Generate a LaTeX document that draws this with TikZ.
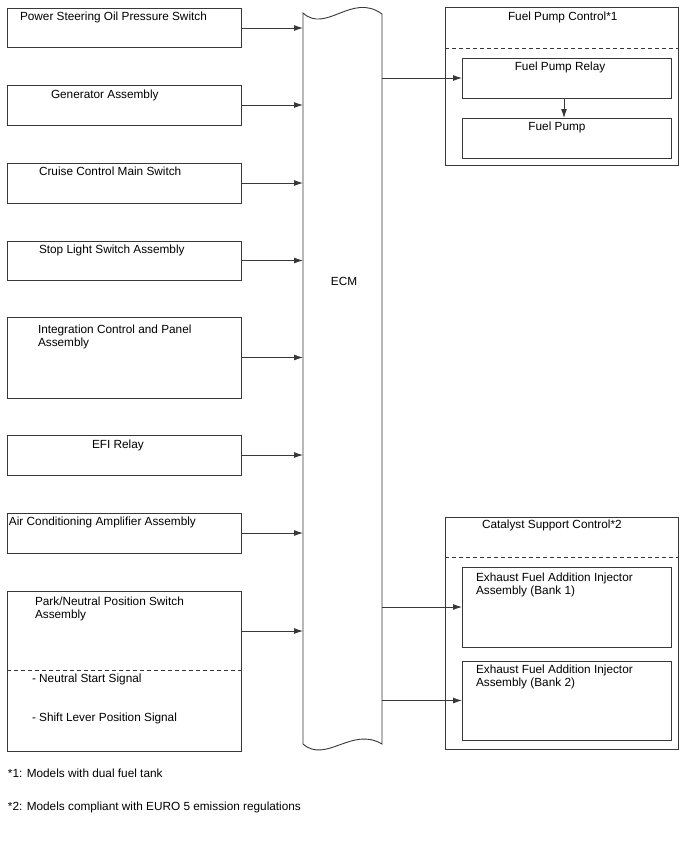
\documentclass[tikz,border=0pt]{standalone}
\usepackage{fontspec}
\setmainfont{Liberation Sans}
\usetikzlibrary{arrows.meta}
\definecolor{ln}{gray}{0.22}
\begin{document}
\begin{tikzpicture}[x=1pt,y=-1pt,
  box/.style={draw=ln,line width=0.9pt,anchor=north west,inner sep=0pt,outer sep=0pt},
  txt/.style={anchor=base west,inner sep=0pt,outer sep=0pt,font=\fontsize{11.8}{13.5}\selectfont,align=left},
  ctxt/.style={anchor=base,inner sep=0pt,outer sep=0pt,font=\fontsize{11.8}{13.5}\selectfont},
  arr/.style={draw=ln,line width=0.9pt,-{Latex[length=9pt,width=6pt]}},
  dsh/.style={draw=ln,line width=0.9pt,dash pattern=on 4pt off 3pt}]
\useasboundingbox (0,0) rectangle (688,852);
\fill[white] (0,0) rectangle (688,852);
% left boxes
\node[box,minimum width=234pt,minimum height=39pt] (b1) at (7,8) {};
\node[box,minimum width=234pt,minimum height=40pt] (b2) at (7,85) {};
\node[box,minimum width=234pt,minimum height=40pt] (b3) at (7,163) {};
\node[box,minimum width=234pt,minimum height=39pt] (b4) at (7,241) {};
\node[box,minimum width=234pt,minimum height=81pt] (b5) at (7,317) {};
\node[box,minimum width=234pt,minimum height=40pt] (b6) at (7,435) {};
\node[box,minimum width=234pt,minimum height=40pt] (b7) at (7,513) {};
\node[box,minimum width=234pt,minimum height=160pt] (b8) at (7,591) {};
\node[txt] (t1) at (20,20) {Power Steering Oil Pressure Switch};
\node[txt] (t2) at (51,98) {Generator Assembly};
\node[txt] (t3) at (39,175) {Cruise Control Main Switch};
\node[txt] (t4) at (39,253) {Stop Light Switch Assembly};
\node[txt] (t5) at (38,346.5) {Integration Control and Panel\\Assembly};
\node[txt] (t6) at (92,448) {EFI Relay};
\node[txt] (t7) at (9,525) {Air Conditioning Amplifier Assembly};
\node[txt] (t8) at (35,618.5) {Park/Neutral Position Switch\\Assembly};
\draw[dsh] (7,670) -- (241,670);
\node[txt] (t8a) at (32,682) {- Neutral Start Signal};
\node[txt] (t8b) at (32,721) {- Shift Lever Position Signal};
% ECM
\node[inner sep=0pt,outer sep=0pt,minimum width=79pt,minimum height=731pt,anchor=north west] (ecm) at (303,13) {};
\draw[ln,line width=0.9pt] (303,13) .. controls (326,34) and (352,-8) .. (382,14)
  -- (382,744) .. controls (352,726) and (326,764) .. (303,744) -- cycle;
\node[ctxt] (ecmlbl) at (344,285) {ECM};
% arrows left -> ECM
\draw[arr] (b1.east |- 0,28) -- (ecm.west |- 0,28);
\draw[arr] (b2.east) -- (ecm.west |- b2.east);
\draw[arr] (b3.east) -- (ecm.west |- b3.east);
\draw[arr] (b4.east) -- (ecm.west |- b4.east);
\draw[arr] (b5.east) -- (ecm.west |- b5.east);
\draw[arr] (b6.east) -- (ecm.west |- b6.east);
\draw[arr] (b7.east) -- (ecm.west |- b7.east);
\draw[arr] (b8.east |- 0,631) -- (ecm.west |- 0,631);
% Fuel pump control
\node[box,minimum width=233pt,minimum height=158pt] (fpc) at (445,7) {};
\node[txt] (fpct) at (508,20) {Fuel Pump Control*1};
\draw[dsh] (445,48) -- (678,48);
\node[box,minimum width=209pt,minimum height=40pt] (relay) at (462,58) {};
\node[box,minimum width=209pt,minimum height=40pt] (pump) at (462,118) {};
\node[ctxt] (relayt) at (560,70) {Fuel Pump Relay};
\node[ctxt] (pumpt) at (557,130) {Fuel Pump};
\draw[arr] (ecm.east |- relay.west) -- (relay.west);
\draw[arr] (relay.south -| 564,0) -- (pump.north -| 564,0);
% Catalyst support control
\node[box,minimum width=233pt,minimum height=232pt] (csc) at (445,517) {};
\node[txt] (csct) at (482,528) {Catalyst Support Control*2};
\draw[dsh] (445,557) -- (678,557);
\node[box,minimum width=209pt,minimum height=80pt] (inj1) at (462,567) {};
\node[box,minimum width=209pt,minimum height=79pt] (inj2) at (462,661) {};
\node[txt] (inj1t) at (476,594.5) {Exhaust Fuel Addition Injector\\Assembly (Bank 1)};
\node[txt] (inj2t) at (476,686.5) {Exhaust Fuel Addition Injector\\Assembly (Bank 2)};
\draw[arr] (ecm.east |- inj1.west) -- (inj1.west);
\draw[arr] (ecm.east |- inj2.west) -- (inj2.west);
% footnotes
\node[txt] (fn1) at (8,777) {*1: Models with dual fuel tank};
\node[txt] (fn2) at (8,810) {*2: Models compliant with EURO 5 emission regulations};
\end{tikzpicture}
\end{document}
